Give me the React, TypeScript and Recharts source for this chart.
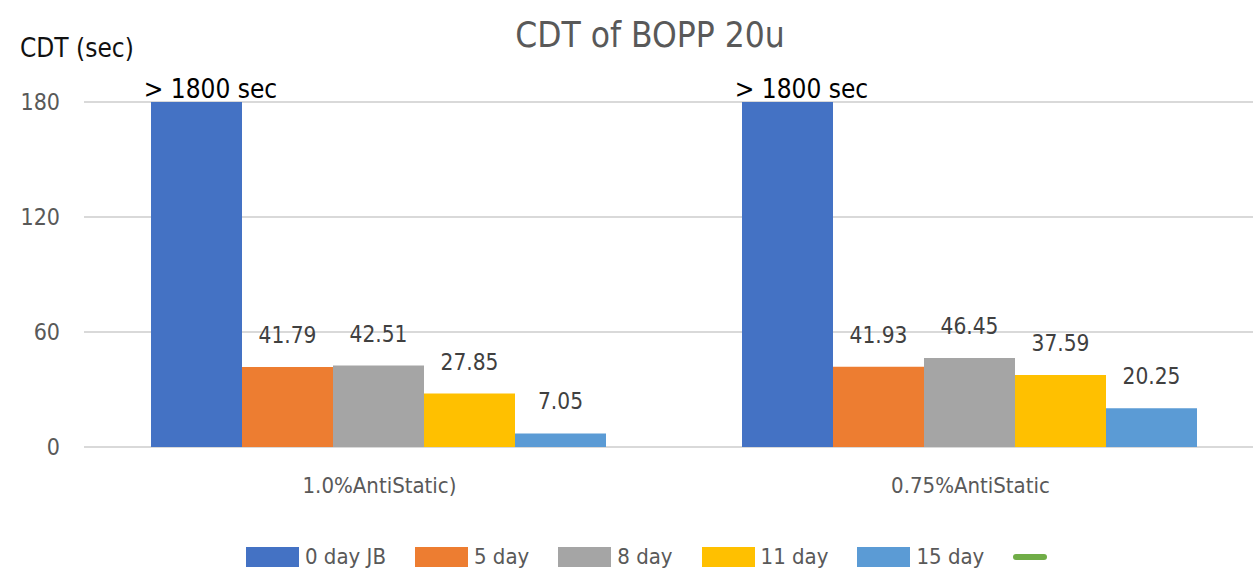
import React from 'react';
import { ComposedChart, Bar, Line, XAxis, YAxis, CartesianGrid, Legend, LabelList } from 'recharts';

const categories = ['1.0%AntiStatic)', '0.75%AntiStatic'];
const seriesNames = ['0 day JB', '5 day', '8 day', '11 day', '15 day'];
const day0 = [180, 180];
const day5 = [41.79, 41.93];
const day8 = [42.51, 46.45];
const day11 = [27.85, 37.59];
const day15 = [7.05, 20.25];
const yTicks = [0, 60, 120, 180];
const overLabel = '> 1800 sec';

const data = categories.map((name, i) => ({
  name,
  d0: day0[i],
  d5: day5[i],
  d8: day8[i],
  d11: day11[i],
  d15: day15[i],
}));

const FONT = "'DejaVu Sans Condensed', 'Liberation Sans', sans-serif";

const renderOver = (props: any) => {
  const { x, y, width } = props;
  return (
    <text x={x + width / 2 + 14} y={y - 4} textAnchor="middle" fontSize={26} fill="#000" fontFamily={FONT}>
      {overLabel}
    </text>
  );
};

const renderValue = (props: any) => {
  const { x, y, width, value } = props;
  return (
    <text x={x + width / 2} y={y - 24} textAnchor="middle" fontSize={22.5} fill="#404040" fontFamily={FONT}>
      {value}
    </text>
  );
};

const orderOf = (entry: any) => {
  const i = seriesNames.indexOf(entry.value);
  return i < 0 ? 99 : i;
};

const renderLegend = (props: any) => {
  const items = [...(props.payload || [])].sort((a: any, b: any) => orderOf(a) - orderOf(b));
  return (
    <div style={{ height: 26, display: 'flex', alignItems: 'center', paddingLeft: 246, fontFamily: FONT }}>
      {items.map((entry: any, i: number) =>
        entry.type === 'plainline' ? (
          <span key={i} style={{ display: 'inline-block', width: 34, height: 6, borderRadius: 3, background: entry.color }} />
        ) : (
          <span key={i} style={{ display: 'inline-flex', alignItems: 'center', marginRight: 29 }}>
            <span style={{ display: 'inline-block', width: 53, height: 20, background: entry.color, marginRight: 6 }} />
            <span style={{ fontSize: 22, color: '#595959', lineHeight: '26px' }}>{entry.value}</span>
          </span>
        )
      )}
    </div>
  );
};

export default function App() {
  return (
    <div style={{ position: 'absolute', left: 0, top: 0, width: 1253, height: 570, overflow: 'hidden', background: '#fff' }}>
      <div style={{ position: 'absolute', left: 0, width: 1300, top: 18, textAlign: 'center', fontFamily: FONT, fontSize: 35, lineHeight: '35px', color: '#595959' }}>
        CDT of BOPP 20u
      </div>
      <div style={{ position: 'absolute', left: 20, top: 35, fontFamily: FONT, fontSize: 26, lineHeight: '26px', color: '#111' }}>
        CDT (sec)
      </div>
      <ComposedChart
        width={1266}
        height={570}
        data={data}
        margin={{ top: 102, right: 0, bottom: 0, left: 0 }}
        barGap={0}
        barCategoryGap={67}
      >
        <CartesianGrid vertical={false} stroke="#d9d9d9" strokeWidth={2} />
        <XAxis
          dataKey="name"
          height={97}
          axisLine={false}
          tickLine={false}
          tickSize={0}
          tickMargin={30}
          tick={{ fontSize: 22, fill: '#595959', fontFamily: FONT }}
        />
        <YAxis
          width={84}
          domain={[0, 180]}
          ticks={yTicks}
          axisLine={false}
          tickLine={false}
          tickSize={0}
          tickMargin={24}
          tick={{ fontSize: 23, fill: '#595959', fontFamily: FONT }}
        />
        <Legend verticalAlign="bottom" content={renderLegend} />
        <Bar dataKey="d0" name={seriesNames[0]} fill="#4472C4" isAnimationActive={false}>
          <LabelList dataKey="d0" content={renderOver} />
        </Bar>
        <Bar dataKey="d5" name={seriesNames[1]} fill="#ED7D31" isAnimationActive={false}>
          <LabelList dataKey="d5" content={renderValue} />
        </Bar>
        <Bar dataKey="d8" name={seriesNames[2]} fill="#A5A5A5" isAnimationActive={false}>
          <LabelList dataKey="d8" content={renderValue} />
        </Bar>
        <Bar dataKey="d11" name={seriesNames[3]} fill="#FFC000" isAnimationActive={false}>
          <LabelList dataKey="d11" content={renderValue} />
        </Bar>
        <Bar dataKey="d15" name={seriesNames[4]} fill="#5B9BD5" isAnimationActive={false}>
          <LabelList dataKey="d15" content={renderValue} />
        </Bar>
        <Line dataKey="d6" name="" stroke="#70AD47" legendType="plainline" dot={false} isAnimationActive={false} />
      </ComposedChart>
    </div>
  );
}
